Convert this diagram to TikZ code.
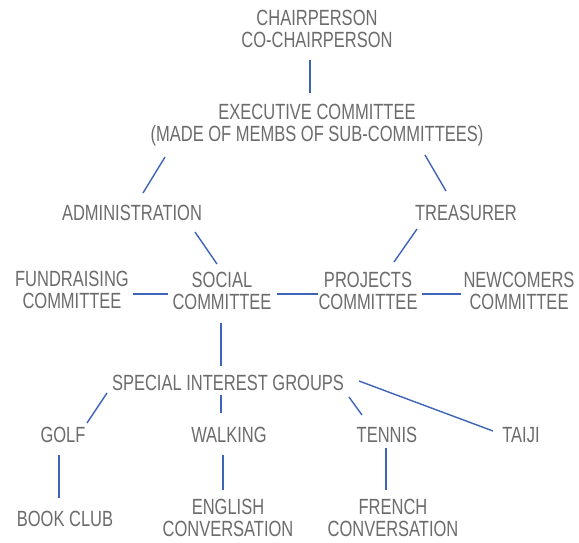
\documentclass[tikz,border=0pt]{standalone}
\usepackage{fontspec}
\setmainfont[FakeStretch=0.75]{Liberation Sans}
\definecolor{txtgrey}{RGB}{108,108,108}
\definecolor{lineblue}{RGB}{62,100,185}
\begin{document}
\begin{tikzpicture}[x=1pt,y=-1pt,
  lbl/.style={inner sep=0pt,outer sep=0pt,align=center,text=txtgrey,
    font=\fontsize{22}{21.5}\selectfont},
  conn/.style={draw=lineblue,line width=1.4pt}]
\useasboundingbox[fill=white] (0,0) rectangle (579,542);
% nodes
\node[lbl] (chair) at (317,29) {CHAIRPERSON\\CO-CHAIRPERSON};
\node[lbl] (exec) at (317,125) {EXECUTIVE COMMITTEE\\(MADE OF MEMBS OF SUB-COMMITTEES)};
\node[lbl] (admin) at (132,213) {ADMINISTRATION};
\node[lbl] (treas) at (466,213) {TREASURER};
\node[lbl] (fund) at (72,290) {FUNDRAISING\\COMMITTEE};
\node[lbl] (social) at (222,291) {SOCIAL\\COMMITTEE};
\node[lbl] (proj) at (368,291) {PROJECTS\\COMMITTEE};
\node[lbl] (newc) at (519,291) {NEWCOMERS\\COMMITTEE};
\node[lbl] (sig) at (228,383) {SPECIAL INTEREST GROUPS};
\node[lbl] (golf) at (63,435) {GOLF};
\node[lbl] (walk) at (229,435) {WALKING};
\node[lbl] (tennis) at (387,435) {TENNIS};
\node[lbl] (taiji) at (521,435) {TAIJI};
\node[lbl] (book) at (65,519) {BOOK CLUB};
\node[lbl] (english) at (228,518) {ENGLISH\\CONVERSATION};
\node[lbl] (french) at (393,518) {FRENCH\\CONVERSATION};
% connectors
\draw[conn] ([shift={(-7,31)}]chair.center) -- ([shift={(-7,-32)}]exec.center);
\draw[conn] ([shift={(-152,32)}]exec.center) -- ([shift={(11,-20)}]admin.center);
\draw[conn] ([shift={(108,30)}]exec.center) -- ([shift={(-20,-22)}]treas.center);
\draw[conn] ([shift={(63,19)}]admin.center) -- ([shift={(-5,-27)}]social.center);
\draw[conn] ([shift={(-49,16)}]treas.center) -- ([shift={(26,-29)}]proj.center);
\draw[conn] ([shift={(61,4)}]fund.center) -- ([shift={(-54,3)}]social.center);
\draw[conn] ([shift={(55,3)}]social.center) -- ([shift={(-50,3)}]proj.center);
\draw[conn] ([shift={(54,3)}]proj.center) -- ([shift={(-58,3)}]newc.center);
\draw[conn] ([shift={(-1,32)}]social.center) -- ([shift={(-7,-17)}]sig.center);
\draw[conn] ([shift={(-121,10)}]sig.center) -- ([shift={(24,-12)}]golf.center);
\draw[conn] ([shift={(-7,12)}]sig.center) -- ([shift={(-8,-22)}]walk.center);
\draw[conn] ([shift={(121,14)}]sig.center) -- ([shift={(-25,-20)}]tennis.center);
\draw[conn] ([shift={(131,-2)}]sig.center) -- ([shift={(-28,-4)}]taiji.center);
\draw[conn] ([shift={(-4,20)}]golf.center) -- ([shift={(-6,-21)}]book.center);
\draw[conn] ([shift={(-6,20)}]walk.center) -- ([shift={(-5,-28)}]english.center);
\draw[conn] ([shift={(-1,13)}]tennis.center) -- ([shift={(-7,-28)}]french.center);
\end{tikzpicture}
\end{document}
